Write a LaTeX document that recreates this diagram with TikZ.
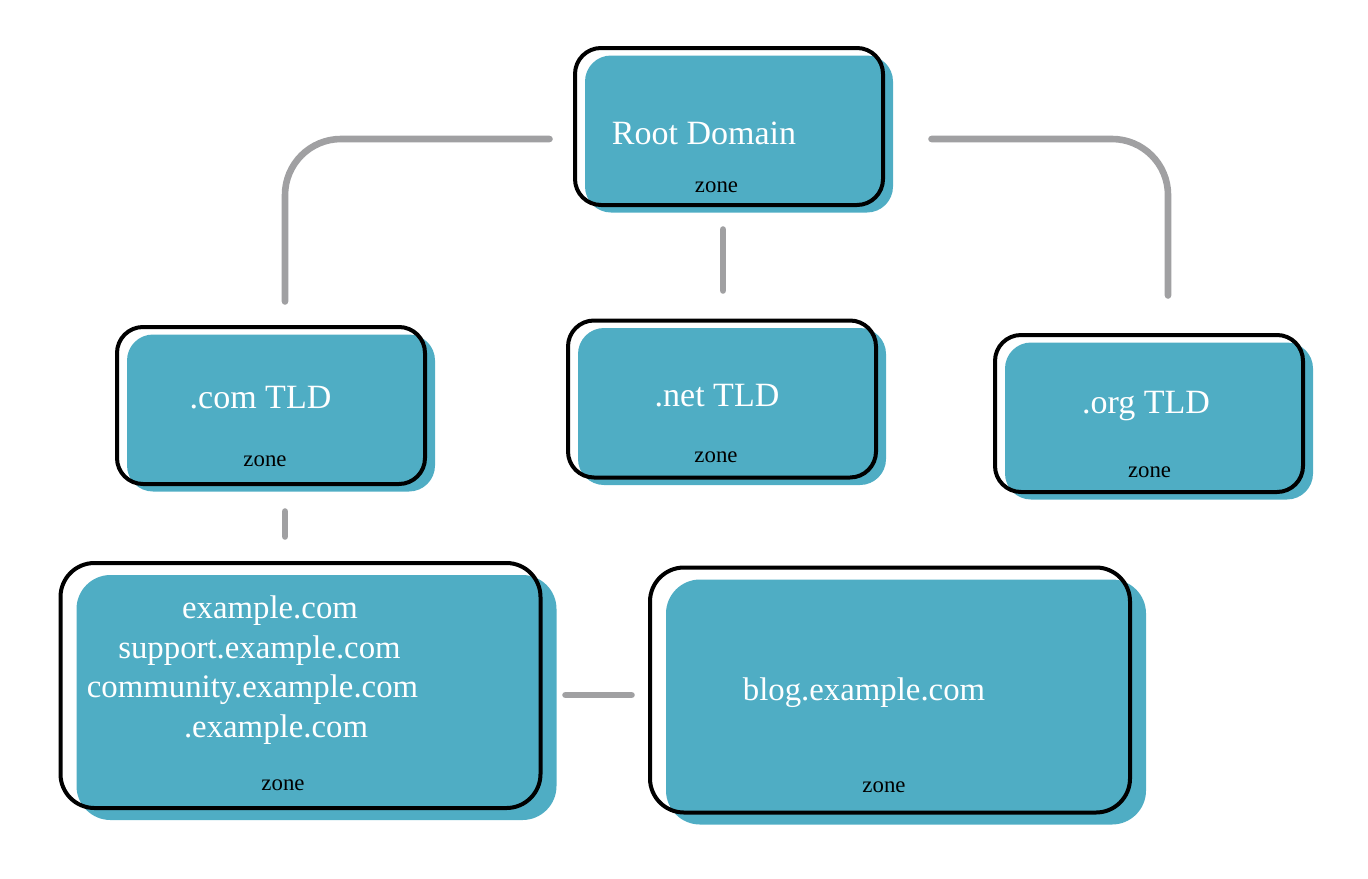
\documentclass[tikz,border=0pt]{standalone}
\usepackage{fontspec}
\setmainfont{Liberation Serif}
\usepackage{xcolor}
\usetikzlibrary{shadows}
\definecolor{zoneblue}{HTML}{4FADC4}
\definecolor{linkgray}{HTML}{A0A0A2}
\tikzset{zoneframe/.style={draw=black, line width=2pt, inner sep=0pt, outer sep=0pt}}
\tikzset{zonebox/.style={zoneframe, rounded corners=13pt, minimum width=154pt, minimum height=78.5pt,
    drop shadow={opacity=1, fill=zoneblue, shadow xshift=5pt, shadow yshift=-3.75pt}}}
\tikzset{bigzonebox/.style={zoneframe, rounded corners=17pt, minimum width=240pt, minimum height=122.5pt,
    drop shadow={opacity=1, fill=zoneblue, shadow xshift=8pt, shadow yshift=-6pt}}}
\tikzset{title/.style={text=white, font=\fontsize{17}{20}\selectfont, anchor=base, inner sep=0pt}}
\tikzset{subtitle/.style={title, font=\fontsize{16.4}{20}\selectfont}}
\tikzset{zonetag/.style={text=black, font=\fontsize{11.4}{13}\selectfont, anchor=base, inner sep=0pt}}
\tikzset{link/.style={draw=linkgray, line width=3.3pt, line cap=round, rounded corners=28pt}}

\begin{document}
\begin{tikzpicture}[x=0.5pt, y=-0.5pt]
  \useasboundingbox (0,0) rectangle (1368,878);

  % zones
  \node[zonebox]    (root)    at (729,126.5) {};
  \node[zonebox]    (comtld)  at (271,405.5) {};
  \node[zonebox]    (nettld)  at (722,399) {};
  \node[zonebox]    (orgtld)  at (1149,413.5) {};
  \node[bigzonebox] (example) at (300.5,685.5) {};
  \node[bigzonebox] (blog)    at (890,690) {};

  % texts
  \node[title]   (rootname) at (704,144) {Root Domain};
  \node[zonetag] (rootzone) at (716.5,192) {zone};
  \node[title]   (comname)  at (260.5,408) {.com TLD};
  \node[zonetag] (comzone)  at (265,466) {zone};
  \node[title]   (netname)  at (717,406) {.net TLD};
  \node[zonetag] (netzone)  at (716,462) {zone};
  \node[title]   (orgname)  at (1146,413) {.org TLD};
  \node[zonetag] (orgzone)  at (1149.5,477) {zone};
  \node[subtitle] (exname1) at (270,618) {example.com};
  \node[subtitle] (exname2) at (259.5,658) {support.example.com};
  \node[subtitle] (exname3) at (252.5,697) {community.example.com};
  \node[subtitle] (exname4) at (276,737) {.example.com};
  \node[zonetag]  (exzone)  at (283,790) {zone};
  \node[subtitle] (blogname) at (864,700) {blog.example.com};
  \node[zonetag]  (blogzone) at (884,792) {zone};

  % delegations
  \draw[link] ([shift={(-25.5,12.5)}]root.west) -| ([shift={(14,-25.5)}]comtld.north);
  \draw[link] ([shift={(48.5,12.5)}]root.east) -| ([shift={(19,-39.5)}]orgtld.north);
  \draw[link] ([shift={(-6,24.5)}]root.south) -- ([shift={(1,-30)}]nettld.north);
  \draw[link] ([shift={(14,27.5)}]comtld.south) -- ([shift={(-15.5,-26.5)}]example.north);
  \draw[link] ([shift={(25,9.5)}]example.east) -- ([shift={(-18.5,5)}]blog.west);

\end{tikzpicture}
\end{document}
